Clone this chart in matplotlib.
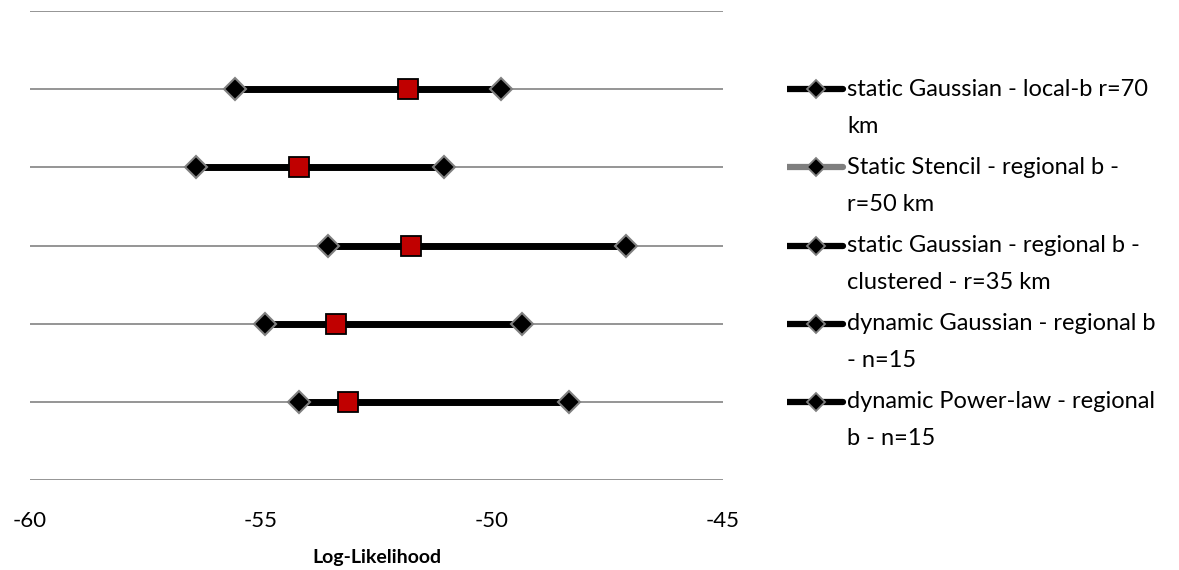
import numpy as np
import matplotlib
matplotlib.use("Agg")
import matplotlib.pyplot as plt

plt.rcParams['font.family'] = ['Lato', 'DejaVu Sans']

# log-likelihood ranges per model (low, mean, high)
models = [
    "static Gaussian - local-b r=70\nkm",
    "Static Stencil - regional b -\nr=50 km",
    "static Gaussian - regional b -\nclustered - r=35 km",
    "dynamic Gaussian - regional b\n- n=15",
    "dynamic Power-law - regional\nb - n=15",
]
low = [-55.56, -56.40, -53.55, -54.92, -54.17]
mean = [-51.81, -54.18, -51.76, -53.38, -53.11]
high = [-49.81, -51.04, -47.10, -49.34, -48.34]
legend_colors = ["black", "#7f7f7f", "black", "black", "black"]

rows = np.arange(len(models), 0, -1)

fig = plt.figure(figsize=(11.79, 5.70), dpi=100)
ax = fig.add_axes([30 / 1179, 1 - 480 / 570, 693 / 1179, 469 / 570])

for y in range(0, 7):
    ax.axhline(y, color="#8c8c8c", lw=1.3, zorder=0)

for y, lo, m, hi in zip(rows, low, mean, high):
    ax.plot([lo, hi], [y, y], color="black", lw=5, solid_capstyle="butt", zorder=2)
    ax.plot([lo, hi], [y, y], ls="none", marker="D", ms=11, mfc="black",
            mec="#808080", mew=1.5, zorder=3)
    ax.plot([m], [y], ls="none", marker="s", ms=15, mfc="#c00000",
            mec="black", mew=1.3, zorder=4)

ax.set_xlim(-60, -45)
ax.set_ylim(0, 6)
ax.set_xticks([-60, -55, -50, -45])
ax.set_xticklabels(["-60", "-55", "-50", "-45"])
ax.set_yticks([])
ax.tick_params(axis="x", length=0, labelsize=16, pad=22)
for s in ax.spines.values():
    s.set_visible(False)
ax.set_xlabel("Log-Likelihood", fontsize=14, fontweight="bold", labelpad=13)

# legend drawn in its own axes so entries line up with the rows
lax = fig.add_axes([787 / 1179, 1 - 480 / 570, 390 / 1179, 469 / 570])
lax.set_xlim(0, 390)
lax.set_ylim(0, 6)
lax.axis("off")
line_step = 37 / (469 / 6)
for y, label, c in zip(rows, models, legend_colors):
    lax.plot([0, 56], [y, y], color=c, lw=4.5, solid_capstyle="round")
    lax.plot([29], [y], ls="none", marker="D", ms=9, mfc="black", mec="#808080", mew=1.3)
    for k, part in enumerate(label.split("\n")):
        lax.text(60, y - k * line_step, part, fontsize=17, va="center", ha="left")

fig.savefig("out.png", dpi=100)
